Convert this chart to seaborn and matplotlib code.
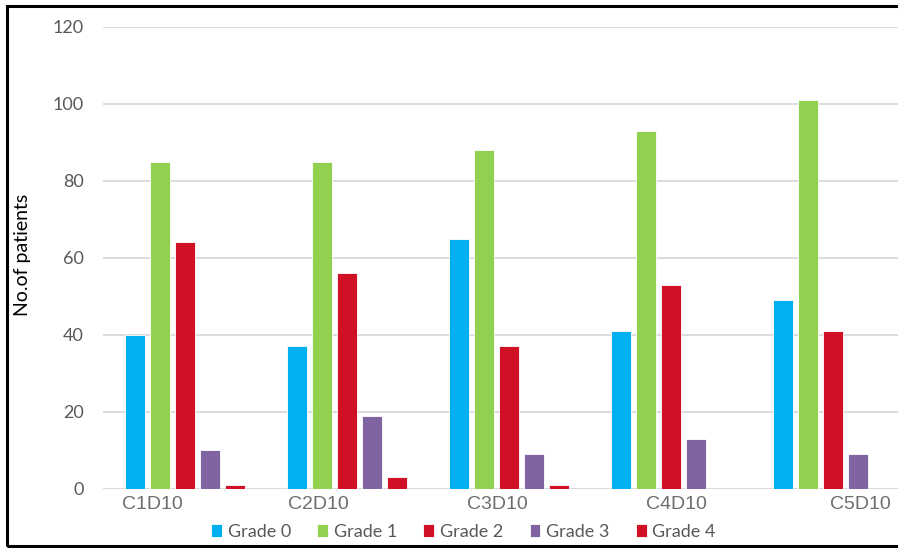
import pandas as pd
import matplotlib.pyplot as plt
import seaborn as sns

cycles = ['C1D10', 'C2D10', 'C3D10', 'C4D10', 'C5D10']
grades = ['Grade 0', 'Grade 1', 'Grade 2', 'Grade 3', 'Grade 4']
grade0 = [40, 37, 65, 41, 49]
grade1 = [85, 85, 88, 93, 101]
grade2 = [64, 56, 37, 53, 41]
grade3 = [10, 19, 9, 13, 9]
grade4 = [1, 3, 1, 0, 0]
colors = ['#00B0F0', '#92D050', '#D01024', '#8064A2', '#D01024']

rows = []
for g, vals in zip(grades, [grade0, grade1, grade2, grade3, grade4]):
    for c, v in zip(cycles, vals):
        rows.append({'cycle': c, 'grade': g, 'patients': v})
df = pd.DataFrame(rows)

sns.set_style('white')
plt.rcParams['font.family'] = ['Lato', 'DejaVu Sans']

fig = plt.figure(figsize=(8.98, 5.48), dpi=100)
ax = fig.add_axes([0.1147, 0.108, 0.8853, 0.843])

sns.barplot(data=df, x='cycle', y='patients', hue='grade', palette=colors,
            saturation=1, width=0.772, gap=0.2, edgecolor='white', linewidth=0.6, ax=ax)

ax.set_ylim(0, 120)
ax.set_yticks(range(0, 121, 20))
ax.set_xlim(-0.506, 4.40)
ax.yaxis.grid(True, color='#D9D9D9', linewidth=1.3)
ax.set_axisbelow(True)
for s in ax.spines.values():
    s.set_visible(False)
ax.axhline(0, color='#D9D9D9', linewidth=1.3, zorder=0)

# category labels sit a little off the group centres in the original
label_pos = [-0.20, 0.824, 1.929, 3.034, 4.17]
ax.set_xticks(label_pos)
ax.set_xticklabels(cycles, fontfamily='Liberation Sans', fontsize=14, color='#6E6E6E')
ax.tick_params(axis='x', length=0, pad=5)
ax.tick_params(axis='y', length=0, pad=14, labelsize=13, labelcolor='#595959')
ax.set_xlabel('')
ax.set_ylabel('No.of patients', fontsize=14, color='black')
ax.yaxis.set_label_coords(-0.09, 0.506)

ax.get_legend().remove()
handles, labels = ax.get_legend_handles_labels()
fig.legend(handles[:5], labels[:5], loc='center', bbox_to_anchor=(0.516, 0.029),
           ncol=5, frameon=False, fontsize=13, handlelength=0.6, handleheight=0.7,
           handletextpad=0.3, columnspacing=1.47, labelcolor='#595959')

fig.patches.append(plt.Rectangle((0.008, 0.003), 1.2, 0.986, transform=fig.transFigure,
                                 fill=False, edgecolor='black', linewidth=2.2))

plt.savefig('out.png', dpi=100)
